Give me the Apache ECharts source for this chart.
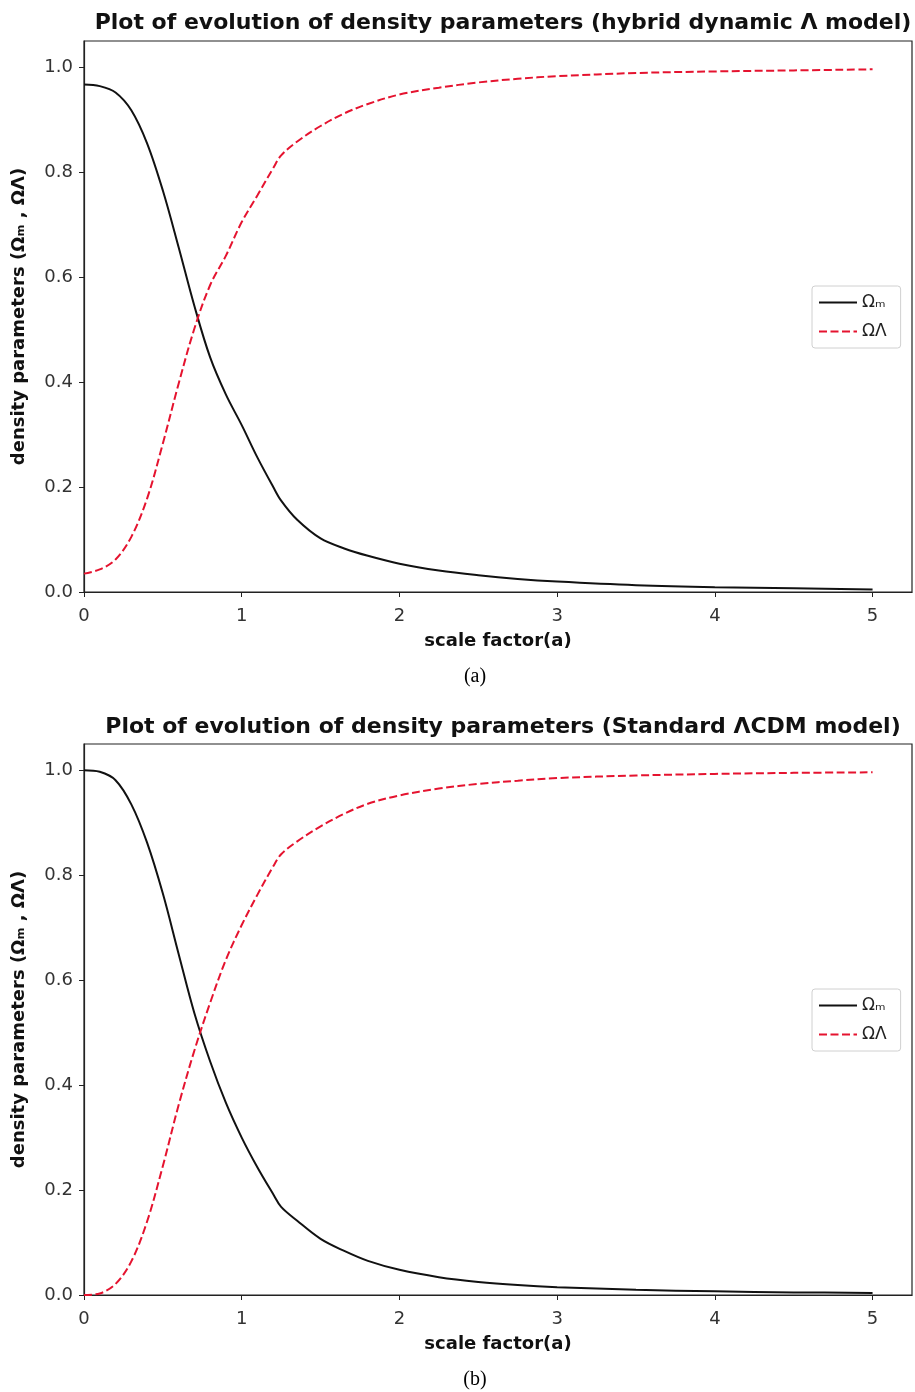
<!DOCTYPE html>
<html lang="en">
<head>
<meta charset="UTF-8">
<title>Evolution of density parameters</title>
<script src="https://cdn.jsdelivr.net/npm/echarts@6/dist/echarts.min.js"></script>
<style>
  body { margin: 0; background: #fff; }
  #chart { width: 915px; height: 1392px; }
</style>
</head>
<body>
<div id="chart"></div>
<script>
// scale factor samples
var scaleFactor = [0, 0.1, 0.2, 0.3, 0.4, 0.5, 0.6, 0.7, 0.8, 0.9, 1.0, 1.1, 1.2, 1.25, 1.35, 1.5, 1.65, 1.8, 2, 2.25, 2.5, 2.75, 3, 3.5, 4, 4.5, 5];

// (a) hybrid dynamic Lambda model
var hybridMatter = [0.967, 0.964, 0.952, 0.918, 0.855, 0.765, 0.657, 0.545, 0.447, 0.376, 0.318, 0.256, 0.2, 0.174, 0.138, 0.102, 0.083, 0.069, 0.054, 0.041, 0.032, 0.025, 0.02, 0.013, 0.009, 0.007, 0.005];
var hybridLambda = [0.035, 0.043, 0.062, 0.105, 0.178, 0.283, 0.397, 0.502, 0.585, 0.641, 0.705, 0.756, 0.808, 0.832, 0.858, 0.888, 0.912, 0.93, 0.948, 0.961, 0.971, 0.978, 0.983, 0.989, 0.992, 0.994, 0.996];

// (b) standard LCDM model
var standardMatter = [1.0, 0.997, 0.981, 0.935, 0.862, 0.765, 0.65, 0.537, 0.445, 0.366, 0.3, 0.243, 0.192, 0.168, 0.142, 0.107, 0.084, 0.065, 0.048, 0.034, 0.025, 0.019, 0.015, 0.01, 0.007, 0.005, 0.004];
var standardLambda = [0.0, 0.003, 0.021, 0.064, 0.14, 0.246, 0.362, 0.466, 0.557, 0.639, 0.705, 0.763, 0.817, 0.84, 0.864, 0.893, 0.917, 0.936, 0.952, 0.965, 0.974, 0.98, 0.985, 0.99, 0.993, 0.995, 0.996];

var xTicks = [0, 1, 2, 3, 4, 5];
var yTicks = [0, 0.2, 0.4, 0.6, 0.8, 1.0];

var titles = [
  'Plot of evolution of density parameters (hybrid dynamic \u039B model)',
  'Plot of evolution of density parameters (Standard \u039BCDM model)'
];
var captions = ['(a)', '(b)'];
var seriesNames = ['\u03A9\u2098', '\u03A9\u039B'];
var xName = 'scale factor(a)';
var yName = 'density parameters (\u03A9\u2098 , \u03A9\u039B)';

function pairs(xs, ys) {
  return xs.map(function (x, i) { return [x, ys[i]]; });
}

var chart = echarts.init(document.getElementById('chart'));

var gridTops = [41, 744];
var plotH = 551;
var font = 'DejaVu Sans';
var ink = '#222';

function xAxisFor(i) {
  return {
    type: 'value', gridIndex: i, min: 0, max: 5.25,
    name: xName, nameLocation: 'middle', nameGap: 40,
    nameTextStyle: { fontFamily: font, fontWeight: 'bold', fontSize: 18, color: '#111' },
    axisLine: { show: true, lineStyle: { color: ink, width: 1.2 } },
    axisTick: { show: true, length: 5, customValues: xTicks, lineStyle: { color: ink } },
    axisLabel: { customValues: xTicks, margin: 15, fontFamily: font, fontSize: 18, color: '#333' },
    splitLine: { show: false }
  };
}

function yAxisFor(i) {
  return {
    type: 'value', gridIndex: i, min: 0, max: 1.05,
    name: yName, nameLocation: 'middle', nameGap: 56,
    nameTextStyle: { fontFamily: font, fontWeight: 'bold', fontSize: 18, color: '#111' },
    axisLine: { show: true, lineStyle: { color: ink, width: 1.2 } },
    axisTick: { show: true, length: 5, customValues: yTicks, lineStyle: { color: ink } },
    axisLabel: {
      customValues: yTicks, margin: 11, fontFamily: font, fontSize: 18, color: '#333',
      formatter: function (v) { return v.toFixed(1); }
    },
    splitLine: { show: false }
  };
}

function matterLine(i, data) {
  return {
    name: seriesNames[0], type: 'line', xAxisIndex: i, yAxisIndex: i,
    data: pairs(scaleFactor, data), symbol: 'none', smooth: 0.35,
    lineStyle: { color: '#111', width: 2 }, itemStyle: { color: '#111' }
  };
}

function lambdaLine(i, data) {
  return {
    name: seriesNames[1], type: 'line', xAxisIndex: i, yAxisIndex: i,
    data: pairs(scaleFactor, data), symbol: 'none', smooth: 0.35,
    lineStyle: { color: '#e5132f', width: 2, type: [8, 3.5] }, itemStyle: { color: '#e5132f' }
  };
}

function legendFor(top) {
  return {
    data: seriesNames, orient: 'vertical', left: 812, top: top,
    itemWidth: 38, itemHeight: 14, itemGap: 12,
    padding: [8, 14, 8, 6],
    itemStyle: { opacity: 0, color: 'transparent', borderWidth: 0 },
    backgroundColor: '#fff', borderColor: '#d0d0d0', borderWidth: 1, borderRadius: 3,
    textStyle: { fontFamily: font, fontSize: 17, color: '#222' }
  };
}

var option = {
  animation: false,
  backgroundColor: '#fff',
  title: [
    { text: titles[0], left: 498, top: 7, textAlign: 'center',
      textStyle: { fontFamily: font, fontWeight: 'bold', fontSize: 22, color: '#111' } },
    { text: titles[1], left: 498, top: 711, textAlign: 'center',
      textStyle: { fontFamily: font, fontWeight: 'bold', fontSize: 22, color: '#111' } },
    { text: captions[0], left: 470, top: 662, textAlign: 'center',
      textStyle: { fontFamily: 'Liberation Serif', fontWeight: 'normal', fontSize: 20, color: '#000' } },
    { text: captions[1], left: 470, top: 1365, textAlign: 'center',
      textStyle: { fontFamily: 'Liberation Serif', fontWeight: 'normal', fontSize: 20, color: '#000' } }
  ],
  legend: [legendFor(286), legendFor(989)],
  grid: gridTops.map(function (t) {
    return { left: 84, right: 3, top: t, height: plotH, show: true,
      borderColor: ink, borderWidth: 1.2, backgroundColor: '#fff' };
  }),
  xAxis: [xAxisFor(0), xAxisFor(1)],
  yAxis: [yAxisFor(0), yAxisFor(1)],
  series: [
    matterLine(0, hybridMatter),
    lambdaLine(0, hybridLambda),
    matterLine(1, standardMatter),
    lambdaLine(1, standardLambda)
  ]
};

chart.setOption(option);
</script>
</body>
</html>
